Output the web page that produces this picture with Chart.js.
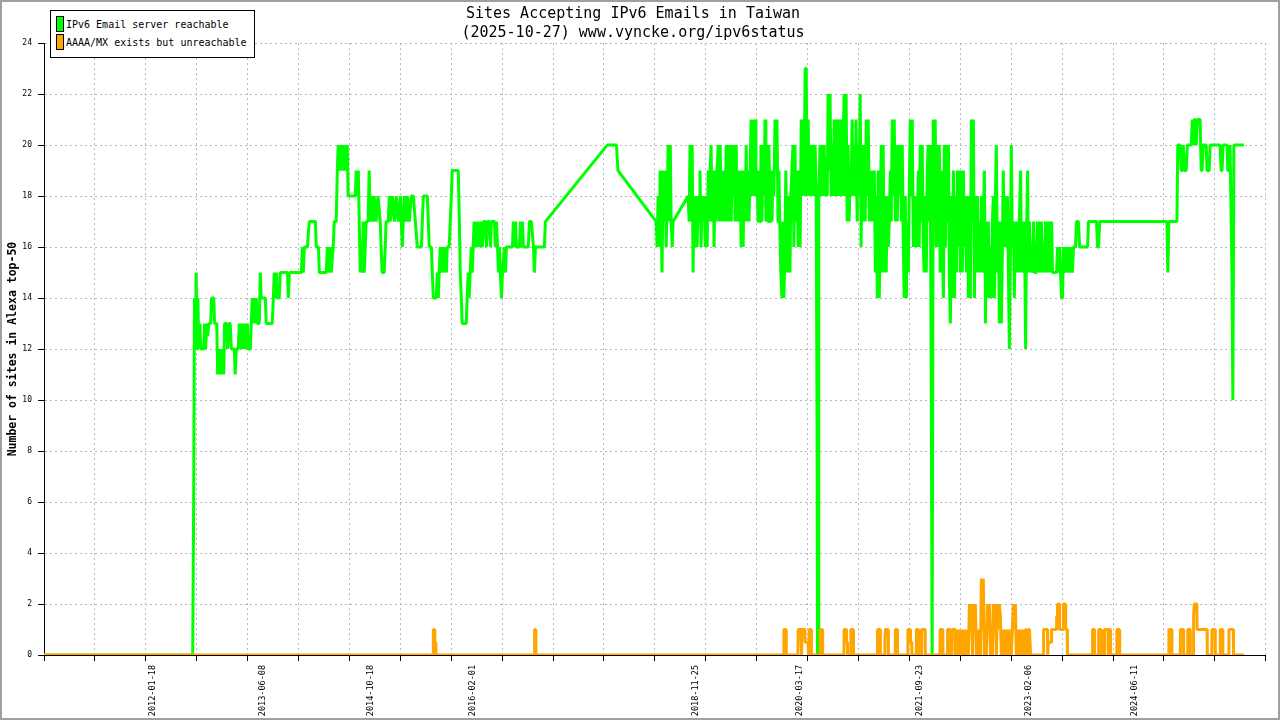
<!DOCTYPE html>
<html><head><meta charset="utf-8">
<script src="https://cdn.jsdelivr.net/npm/chart.js@4.4.1/dist/chart.umd.min.js"></script>
<style>
html,body{margin:0;padding:0;background:#fff;}
#wrap{position:relative;width:1280px;height:720px;overflow:hidden;background:#fff;}
#frame{position:absolute;left:0;top:0;width:1280px;height:720px;box-sizing:border-box;border:2px solid #a0a0a0;pointer-events:none;}
#legend{position:absolute;left:50px;top:10px;width:205px;height:48px;box-sizing:border-box;border:1px solid #000;background:#fff;font:10px 'DejaVu Sans Mono',monospace;color:#000;}
.sw{position:absolute;left:5px;width:8px;height:16px;box-sizing:border-box;border:1px solid #000;}
.lbl{position:absolute;left:15px;white-space:nowrap;line-height:12px;}
</style></head>
<body>
<div id="wrap">
<canvas id="c" width="1280" height="720"></canvas>
<div id="legend">
  <div class="sw" style="top:5px;background:#00ff00"></div><div class="lbl" style="top:8px">IPv6 Email server reachable</div>
  <div class="sw" style="top:23px;background:#ffa500"></div><div class="lbl" style="top:26px">AAAA/MX exists but unreachable</div>
</div>
<div id="frame"></div>
</div>
<script>
const chartTitle = ['Sites Accepting IPv6 Emails in Taiwan', '(2025-10-27) www.vyncke.org/ipv6status'];
const yTitle = 'Number of sites in Alexa top-50';
const axisStart = '2010-09-01';
const axisEnd = '2026-02-05';
const tickDates = ['2012-01-18','2013-06-08','2014-10-18','2016-02-01','2018-11-25','2020-03-17','2021-09-23','2023-02-06','2024-06-11'];

const greenSeries = [
['2010-09-01',0],['2012-07-18',0],['2012-07-23',7],['2012-07-26',14],['2012-07-30',12],['2012-08-03',15],['2012-08-07',12],['2012-08-11',14],['2012-08-15',12],['2012-08-20',13],['2012-08-24',12],['2012-09-07',12],['2012-09-11',13],['2012-09-16',12],['2012-09-20',13],['2012-09-25',12.5],['2012-09-30',13],['2012-10-09',13],['2012-10-13',14],['2012-10-23',14],['2012-10-27',13],['2012-11-06',13],['2012-11-10',11],['2012-11-15',12],['2012-11-19',11],['2012-11-24',12],['2012-11-29',11],['2012-12-03',12],['2012-12-08',11],['2012-12-12',13],['2012-12-22',13],['2012-12-26',12],['2012-12-31',13],
['2013-01-07',13],['2013-01-12',12],['2013-01-26',12],['2013-01-30',11],['2013-02-04',12],['2013-02-13',12],['2013-02-18',13],['2013-02-22',12],['2013-02-27',13],['2013-03-03',12],['2013-03-08',13],['2013-03-13',12],['2013-03-17',13],['2013-03-22',12],['2013-03-27',13],['2013-03-31',12],['2013-04-10',12],['2013-04-14',13],['2013-04-19',14],['2013-04-24',13],['2013-04-28',14],['2013-05-03',13],['2013-05-07',14],['2013-05-12',13],['2013-05-21',13],['2013-05-26',15],['2013-05-30',14],['2013-06-18',14],['2013-06-22',13],['2013-07-20',13],['2013-07-25',14],['2013-07-29',15],['2013-08-03',14],['2013-08-08',15],['2013-08-12',14],['2013-08-21',14],['2013-08-26',15],['2013-09-28',15],['2013-10-02',14],['2013-10-07',15],['2013-12-01',15],['2013-12-06',16],['2013-12-10',15],['2013-12-15',16],['2013-12-29',16],
['2014-01-02',16.5],['2014-01-07',17],['2014-02-04',17],['2014-02-08',16],['2014-02-18',16],['2014-02-22',15],['2014-03-26',15],['2014-03-31',16],['2014-04-04',15],['2014-04-13',16],['2014-04-18',15],['2014-04-27',16],['2014-05-02',17],['2014-05-11',17],['2014-05-16',19],['2014-05-20',20],['2014-05-25',19],['2014-05-30',20],['2014-06-03',19],['2014-06-08',20],['2014-06-12',19],['2014-06-17',20],['2014-06-26',19],['2014-07-01',20],['2014-07-05',18],['2014-08-07',18],['2014-08-11',19],['2014-08-16',18],['2014-08-21',19],['2014-08-25',17],['2014-08-30',15],['2014-09-03',16],['2014-09-08',15],['2014-09-12',17],['2014-09-17',15],['2014-09-22',16],['2014-09-26',17],['2014-10-05',17],['2014-10-10',19],['2014-10-15',17],['2014-10-24',18],['2014-10-28',17],['2014-11-02',18],['2014-11-11',17],['2014-11-20',18],['2014-11-30',17],['2014-12-04',16],['2014-12-09',15],['2014-12-18',15],['2014-12-23',16],['2014-12-27',17],
['2015-01-06',17],['2015-01-11',18],['2015-01-15',17],['2015-01-25',18],['2015-02-03',17],['2015-02-12',18],['2015-02-21',17],['2015-03-03',18],['2015-03-07',17],['2015-03-12',16],['2015-03-16',17],['2015-03-21',18],['2015-03-30',17],['2015-04-04',18],['2015-04-13',17],['2015-04-22',18],['2015-05-02',18],['2015-05-11',17],['2015-05-20',16],['2015-06-08',16],['2015-06-12',17],['2015-06-17',18],['2015-07-05',18],['2015-07-10',17],['2015-07-14',16],['2015-07-24',16],['2015-07-28',15],['2015-08-02',14],['2015-08-16',14],['2015-08-20',15],['2015-08-25',14],['2015-08-29',15],['2015-09-03',16],['2015-09-08',15],['2015-09-12',16],['2015-09-17',15],['2015-09-21',16],['2015-10-01',15],['2015-10-05',16],['2015-10-14',16],['2015-10-19',17],['2015-10-24',18],['2015-10-28',19],['2015-11-25',19],['2015-11-30',17],['2015-12-04',15],['2015-12-09',14],['2015-12-13',13],
['2016-01-01',13],['2016-01-05',14],['2016-01-10',15],['2016-01-14',14],['2016-01-19',15],['2016-01-24',16],['2016-01-28',15],['2016-02-02',16],['2016-02-06',17],['2016-02-11',16],['2016-02-16',17],['2016-02-20',16],['2016-02-25',17],['2016-03-06',16],['2016-03-11',17],['2016-03-15',16],['2016-03-20',17],['2016-03-29',17],['2016-04-03',16],['2016-04-07',17],['2016-04-17',17],['2016-04-21',16],['2016-04-26',17],['2016-05-10',17],['2016-05-14',16],['2016-05-19',17],['2016-05-24',16],['2016-05-28',15],['2016-06-02',16],['2016-06-06',15],['2016-06-11',14],['2016-06-16',15],['2016-06-25',16],['2016-06-30',15],['2016-07-04',16],['2016-08-01',16],['2016-08-05',17],['2016-08-10',16],['2016-08-15',17],['2016-08-19',16],['2016-09-02',16],['2016-09-07',17],['2016-09-11',16],['2016-09-16',17],['2016-09-20',16],['2016-10-13',16],['2016-10-18',17],['2016-10-27',17],['2016-11-01',16.5],['2016-11-06',16],['2016-11-10',15],['2016-11-15',16],['2016-12-26',16],['2016-12-31',17],
['2017-10-12',20],['2017-11-24',20],['2017-11-27',19.5],['2017-12-01',19],
['2018-05-26',17],['2018-05-30',16],['2018-06-04',18],['2018-06-09',16],['2018-06-13',19],['2018-06-18',17],['2018-06-22',15],['2018-06-27',19],['2018-07-02',17],['2018-07-06',19],['2018-07-11',16],['2018-07-16',18],['2018-07-20',20],['2018-07-25',17],['2018-07-30',20],['2018-08-03',17],['2018-08-08',16],['2018-08-12',17],
['2018-10-20',18],['2018-10-25',17],['2018-10-29',20],['2018-11-03',17],['2018-11-08',20],['2018-11-12',15],['2018-11-17',18],['2018-11-21',16],['2018-11-26',18],['2018-12-01',16],['2018-12-05',18],['2018-12-10',17],['2018-12-14',19],['2018-12-19',16],['2018-12-24',18],['2018-12-28',17],
['2019-01-03',18],['2019-01-07',16],['2019-01-12',18],['2019-01-16',16],['2019-01-21',19],['2019-01-25',17],['2019-01-30',19],['2019-02-03',20],['2019-02-08',17],['2019-02-13',19],['2019-02-17',16],['2019-02-22',19],['2019-02-26',17],['2019-03-03',19],['2019-03-08',20],['2019-03-13',17],['2019-03-17',20],['2019-03-22',17],['2019-03-27',19],['2019-03-31',17],['2019-04-05',19],['2019-04-09',17],['2019-04-14',20],['2019-04-19',17],['2019-04-23',20],['2019-04-28',17],['2019-05-03',20],['2019-05-07',17],['2019-05-12',20],['2019-05-16',18],['2019-05-21',20],['2019-05-25',17],['2019-05-30',20],['2019-06-04',17],['2019-06-08',19],['2019-06-13',17],['2019-06-17',19],['2019-06-22',16],['2019-06-26',19],['2019-07-01',16],['2019-07-06',19],['2019-07-10',17],['2019-07-15',20],['2019-07-19',17],['2019-07-24',19],['2019-07-28',17],['2019-08-02',19],['2019-08-07',21],['2019-08-11',18],['2019-08-16',21],['2019-08-20',18],['2019-08-25',21],['2019-08-29',18],['2019-09-03',19],['2019-09-08',17],['2019-09-12',19],['2019-09-17',17],['2019-09-21',20],['2019-09-26',17],['2019-10-01',20],['2019-10-05',18],['2019-10-10',21],['2019-10-14',17],['2019-10-19',20],['2019-10-24',17],['2019-10-28',20],['2019-11-02',17],['2019-11-06',19],['2019-11-11',17],['2019-11-16',19],['2019-11-20',18],['2019-11-25',21],['2019-11-29',19],['2019-12-04',21],['2019-12-09',17],['2019-12-13',19],['2019-12-18',16.5],['2019-12-22',15],['2019-12-27',14],
['2020-01-01',17],['2020-01-05',14],['2020-01-10',16],['2020-01-14',19],['2020-01-19',15],['2020-01-24',18],['2020-01-28',16],['2020-02-02',15],['2020-02-06',18],['2020-02-16',20],['2020-02-20',16],['2020-02-25',20],['2020-03-01',17],['2020-03-06',19],['2020-03-11',16],['2020-03-15',19],['2020-03-20',16],['2020-03-25',21],['2020-03-29',18],['2020-04-03',21],['2020-04-07',18],['2020-04-12',23],['2020-04-17',23],['2020-04-21',18],['2020-04-26',21],['2020-05-01',18],['2020-05-05',20],['2020-05-10',18],['2020-05-14',20],['2020-05-24',18],['2020-05-28',20],['2020-06-02',18],['2020-06-06',9],['2020-06-08',0],['2020-06-11',0],['2020-06-14',18],['2020-06-20',20],['2020-06-25',18],['2020-06-30',20],['2020-07-04',18],['2020-07-09',20],['2020-07-13',18],['2020-07-18',19],['2020-07-23',18],['2020-07-27',22],['2020-08-01',19],['2020-08-05',22],['2020-08-10',18],['2020-08-15',20],['2020-08-19',18],['2020-08-24',21],['2020-08-28',18],['2020-09-02',21],['2020-09-07',19],['2020-09-11',18],['2020-09-16',21],['2020-09-20',18],['2020-09-25',21],['2020-09-30',18],['2020-10-04',20],['2020-10-09',22],['2020-10-13',18],['2020-10-18',22],['2020-10-23',17],['2020-10-27',20],['2020-11-01',17],['2020-11-06',19],['2020-11-10',18],['2020-11-15',21],['2020-11-19',18],['2020-11-24',20],['2020-11-29',18],['2020-12-03',21],['2020-12-08',17],['2020-12-12',20],['2020-12-17',18],['2020-12-22',22],['2020-12-26',16],
['2021-01-01',20],['2021-01-05',17],['2021-01-10',20],['2021-01-14',17],['2021-01-19',21],['2021-01-24',18],['2021-01-28',21],['2021-02-02',17],['2021-02-06',19],['2021-02-11',17],['2021-02-16',19],['2021-02-20',17],['2021-02-25',19],['2021-03-02',15],['2021-03-06',18],['2021-03-11',14],['2021-03-15',19],['2021-03-20',14],['2021-03-25',17],['2021-03-29',20],['2021-04-03',15],['2021-04-07',20],['2021-04-12',15],['2021-04-17',18],['2021-04-21',15],['2021-04-26',18],['2021-05-01',16],['2021-05-05',17],['2021-05-10',19],['2021-05-14',17],['2021-05-19',21],['2021-05-24',18],['2021-05-28',21],['2021-06-02',17],['2021-06-06',20],['2021-06-11',17],['2021-06-16',20],['2021-06-20',18],['2021-06-25',20],['2021-06-30',17],['2021-07-04',20],['2021-07-09',16],['2021-07-13',14],['2021-07-18',18],['2021-07-23',14],['2021-07-27',17],['2021-08-01',15],['2021-08-05',18],['2021-08-10',21],['2021-08-15',18],['2021-08-19',21],['2021-08-24',16],['2021-08-28',18],['2021-09-02',16],['2021-09-07',18],['2021-09-11',16],['2021-09-16',19],['2021-09-20',16],['2021-09-25',20],['2021-09-30',17],['2021-10-04',20],['2021-10-09',16],['2021-10-13',15],['2021-10-18',18],['2021-10-23',15],['2021-10-27',19],['2021-11-01',20],['2021-11-06',17],['2021-11-10',20],['2021-11-15',10],['2021-11-19',0],['2021-11-22',0],['2021-11-24',21],['2021-11-29',18],['2021-12-03',21],['2021-12-08',16],['2021-12-12',20],['2021-12-17',16],['2021-12-22',20],['2021-12-26',15],
['2022-01-01',19],['2022-01-05',16],['2022-01-10',14],['2022-01-14',20],['2022-01-19',16],['2022-01-24',20],['2022-01-28',17],['2022-02-02',20],['2022-02-06',15],['2022-02-11',13],['2022-02-16',18],['2022-02-20',14],['2022-02-25',19],['2022-03-02',14],['2022-03-06',18],['2022-03-11',15],['2022-03-15',19],['2022-03-20',16],['2022-03-25',19],['2022-03-29',15],['2022-04-03',19],['2022-04-07',15],['2022-04-12',19],['2022-04-17',16],['2022-04-21',18],['2022-04-26',15],['2022-05-01',18],['2022-05-05',14],['2022-05-10',18],['2022-05-14',14],['2022-05-19',21],['2022-05-24',17],['2022-05-28',21],['2022-06-02',14],['2022-06-06',18],['2022-06-11',15],['2022-06-16',18],['2022-06-20',15],['2022-06-25',17],['2022-06-30',15],['2022-07-04',18],['2022-07-09',15],['2022-07-13',17],['2022-07-18',19],['2022-07-23',13],['2022-07-27',17],['2022-08-01',14],['2022-08-05',17],['2022-08-10',14],['2022-08-15',16],['2022-08-19',14],['2022-08-24',17],['2022-08-28',18],['2022-09-02',14],['2022-09-07',18],['2022-09-11',20],['2022-09-16',15],['2022-09-20',17],['2022-09-25',13],['2022-09-30',17],['2022-10-04',13],['2022-10-09',16],['2022-10-13',19],['2022-10-18',16],['2022-10-23',18],['2022-10-27',16],['2022-11-01',18],['2022-11-06',15],['2022-11-10',12],['2022-11-15',16],['2022-11-19',20],['2022-11-24',16],['2022-11-29',17],['2022-12-03',14],['2022-12-08',17],['2022-12-12',15],['2022-12-17',17],['2022-12-22',15],['2022-12-26',17],
['2023-01-01',19],['2023-01-05',15],['2023-01-10',17],['2023-01-14',15],['2023-01-19',17],['2023-01-24',12],['2023-01-28',16],['2023-02-02',19],['2023-02-06',15],['2023-02-11',17],['2023-02-16',15],['2023-02-20',16],['2023-02-25',15],['2023-03-02',17],['2023-03-06',15],['2023-03-15',15],['2023-03-20',17],['2023-03-25',15],['2023-03-29',17],['2023-04-03',15],['2023-04-07',17],['2023-04-12',15],['2023-04-17',16],['2023-04-21',15],['2023-04-26',17],['2023-05-01',15],['2023-05-05',17],['2023-05-10',15],['2023-05-14',17],['2023-05-19',15],['2023-05-24',17],['2023-05-28',15],['2023-06-16',15],['2023-06-20',16],['2023-06-25',15],['2023-06-30',16],['2023-07-04',15],['2023-07-09',14],['2023-07-13',14],['2023-07-18',16],['2023-07-23',15],['2023-07-27',16],['2023-08-01',15],['2023-08-10',16],['2023-08-15',15],['2023-08-19',16],['2023-08-28',15],['2023-09-02',16],['2023-09-11',16],['2023-09-16',17],['2023-09-25',17],['2023-09-30',16],['2023-11-06',16],['2023-11-10',17],['2023-12-17',17],['2023-12-22',16],['2023-12-26',16],
['2024-01-01',17],['2024-11-06',17],['2024-11-10',15],['2024-11-15',17],['2024-12-22',17],['2024-12-26',20],
['2025-01-06',20],['2025-01-11',19],['2025-01-15',19],['2025-01-20',20],['2025-01-25',19],['2025-02-03',19],['2025-02-08',20],['2025-02-26',20],['2025-03-03',21],['2025-03-07',20],['2025-03-12',21],['2025-03-16',21],['2025-03-21',20],['2025-03-26',21],['2025-04-08',21],['2025-04-13',19],['2025-04-17',19],['2025-04-22',20],['2025-05-06',20],['2025-05-10',19],['2025-05-20',19],['2025-05-24',20],['2025-07-09',20],['2025-07-14',19],['2025-07-18',19],['2025-07-23',20],['2025-08-10',20],['2025-08-14',19],['2025-08-19',19],['2025-08-24',20],['2025-08-28',20],['2025-09-02',15],['2025-09-06',10],['2025-09-11',20],['2025-10-27',20]
];

const orangeSeries = [
['2010-09-01',0],['2015-08-01',0],['2015-08-02',1],['2015-08-08',1],['2015-08-09',0.5],['2015-08-13',0.5],['2015-08-14',0],
['2016-11-10',0],['2016-11-11',1],['2016-11-16',1],['2016-11-17',0],
['2020-01-04',0],['2020-01-05',1],['2020-01-15',1],['2020-01-16',0],['2020-03-10',0],['2020-03-11',1],['2020-03-24',1],['2020-03-25',0],['2020-03-28',0],['2020-03-29',1],['2020-04-11',1],['2020-04-12',0.5],['2020-04-26',0.5],['2020-04-27',0],['2020-04-30',0],['2020-05-01',1],['2020-05-10',1],['2020-05-11',0],['2020-06-20',0],['2020-06-21',1],['2020-07-01',1],['2020-07-02',0],['2020-10-08',0],['2020-10-09',1],['2020-10-19',1],['2020-10-20',0.5],['2020-10-24',0.5],['2020-10-25',0],['2020-11-08',0],['2020-11-09',1],['2020-11-20',1],['2020-11-21',0],
['2021-03-11',0],['2021-03-12',1],['2021-03-24',1],['2021-03-25',0],['2021-04-14',0],['2021-04-15',0.5],['2021-04-17',1],['2021-04-30',1],['2021-05-01',0],['2021-06-01',0],['2021-06-02',1],['2021-06-11',1],['2021-06-12',0],['2021-07-29',0],['2021-07-30',1],['2021-08-10',1],['2021-08-11',0.5],['2021-08-17',0.5],['2021-08-18',0],['2021-09-06',0],['2021-09-07',1],['2021-09-16',1],['2021-09-17',0],['2021-09-30',0],['2021-10-01',1],['2021-10-17',1],['2021-10-18',0],['2021-12-25',0],['2021-12-26',1],
['2022-01-07',1],['2022-01-08',0],['2022-01-28',0],['2022-01-29',1],['2022-02-10',1],['2022-02-11',0],['2022-02-18',0],['2022-02-19',1],['2022-03-05',1],['2022-03-06',0],['2022-03-14',0],
['2022-03-15',1],['2022-03-20',0],['2022-03-25',1],['2022-03-29',0],['2022-04-03',1],['2022-04-07',0],['2022-04-12',1],['2022-04-17',0],['2022-04-21',1],['2022-04-26',0],['2022-05-01',1],['2022-05-05',0],['2022-05-10',2],['2022-05-14',1],['2022-05-19',2],['2022-05-24',0],['2022-05-28',2],['2022-06-02',1],['2022-06-06',2],['2022-06-11',0],['2022-06-16',1],['2022-06-20',0],['2022-06-25',1],['2022-06-30',0],['2022-07-04',3],['2022-07-09',1],['2022-07-13',3],['2022-07-18',0],['2022-07-23',1],['2022-07-27',0],['2022-08-01',2],['2022-08-05',1],['2022-08-10',2],['2022-08-15',0],['2022-08-19',1],['2022-08-24',0],['2022-08-28',2],['2022-09-02',1],['2022-09-07',2],['2022-09-11',0],['2022-09-16',2],['2022-09-20',1],['2022-09-25',2],['2022-09-30',1.5],['2022-10-04',0],['2022-10-09',1],['2022-10-13',0],['2022-10-18',1],['2022-10-23',0],['2022-10-27',1],['2022-11-01',0],['2022-11-06',1],['2022-11-10',0],['2022-11-15',1],['2022-11-19',0],['2022-11-24',1],['2022-11-29',2],['2022-12-03',1],['2022-12-08',2],['2022-12-12',0],['2022-12-17',1],['2022-12-22',0],['2022-12-26',1],
['2023-01-01',0],['2023-01-05',1],['2023-01-10',0],['2023-01-14',1],['2023-01-19',0],['2023-01-24',1],['2023-01-28',1],['2023-02-02',0],['2023-02-06',1],['2023-02-11',1],['2023-02-16',0],
['2023-04-16',0],['2023-04-17',1],['2023-05-05',1],['2023-05-06',0],['2023-05-09',0.5],['2023-05-23',0.5],['2023-05-24',1],['2023-06-15',1],['2023-06-16',1.5],['2023-06-19',1.5],['2023-06-20',2],['2023-06-29',2],['2023-06-30',1],['2023-07-17',1],['2023-07-18',2],['2023-07-27',2],['2023-07-28',1],['2023-08-04',1],['2023-08-05',0],['2023-11-27',0],['2023-11-28',0.5],['2023-11-30',1],['2023-12-07',1],['2023-12-08',0],['2023-12-26',0],['2023-12-27',1],
['2024-01-06',1],['2024-01-07',0],['2024-01-15',0],['2024-01-16',1],['2024-01-22',0],['2024-01-23',1],['2024-02-08',1],['2024-02-09',0],['2024-02-10',1],['2024-02-19',1],['2024-02-20',0],['2024-03-19',0],['2024-03-20',1],['2024-04-01',1],['2024-04-02',0],['2024-11-14',0],['2024-11-15',1],['2024-11-28',1],['2024-11-29',0],
['2025-01-06',0],['2025-01-07',1],['2025-01-21',1],['2025-01-22',0],['2025-02-09',0],['2025-02-10',1],['2025-02-21',1],['2025-02-22',0],['2025-03-08',0],['2025-03-09',1.5],['2025-03-12',2],['2025-03-24',2],['2025-03-25',1],['2025-05-10',1],['2025-05-11',0],['2025-06-01',0],['2025-06-02',1],['2025-06-16',1],['2025-06-17',0],['2025-07-09',0],['2025-07-10',1],['2025-07-21',1],['2025-07-22',0],['2025-08-18',0],['2025-08-19',1],['2025-09-08',1],['2025-09-09',0],['2025-10-27',0]
];

const toDay = s => Date.parse(s) / 86400000;
const xMin = toDay(axisStart), xMax = toDay(axisEnd);
const gridDivisions = 24;
const MONO = "'DejaVu Sans Mono', monospace";

new Chart(document.getElementById('c'), {
  type: 'line',
  data: {
    datasets: [
      { label: 'IPv6 Email server reachable', data: greenSeries.map(p => ({x: toDay(p[0]), y: p[1]})),
        borderColor: '#00ff00', backgroundColor: '#00ff00', borderWidth: 3, pointRadius: 0, fill: false, tension: 0, order: 1, borderJoinStyle: 'bevel' },
      { label: 'AAAA/MX exists but unreachable', data: orangeSeries.map(p => ({x: toDay(p[0]), y: p[1]})),
        borderColor: '#ffa500', backgroundColor: '#ffa500', borderWidth: 3, pointRadius: 0, fill: false, tension: 0, order: 0, borderJoinStyle: 'bevel' }
    ]
  },
  options: {
    responsive: false, devicePixelRatio: 1, animation: false, events: [],
    layout: { padding: { left: 0, right: 14, top: 0, bottom: 0 } },
    plugins: {
      legend: { display: false },
      tooltip: { enabled: false },
      title: { display: true, text: chartTitle, color: '#000', font: { family: MONO, size: 15, weight: 'normal', lineHeight: 1.27 }, padding: { top: 5, bottom: 0 } }
    },
    scales: {
      x: {
        type: 'linear', min: xMin, max: xMax,
        afterBuildTicks: (scale) => {
          const t = [];
          for (let i = 0; i <= gridDivisions; i++) t.push({ value: xMin + (xMax - xMin) * i / gridDivisions });
          tickDates.forEach(d => t.push({ value: toDay(d), text: d }));
          t.sort((a, b) => a.value - b.value);
          scale.ticks = t;
        },
        ticks: { autoSkip: false, maxRotation: 90, minRotation: 90, color: '#000', padding: 4,
          font: { family: MONO, size: 8.5 },
          callback: (v, i, ticks) => ticks[i].text || '' },
        grid: {
          color: c => (c.tick && c.tick.text) ? 'rgba(0,0,0,0)' : '#b8b8b8',
          tickColor: c => (c.tick && c.tick.text) ? 'rgba(0,0,0,0)' : '#000',
          tickLength: 6, lineWidth: 1
        },
        border: { display: true, color: '#000', width: 1, dash: [2, 3] },
        afterFit: s => { s.height = 65; }
      },
      y: {
        min: 0, max: 24,
        ticks: { stepSize: 2, color: '#000', padding: 6, font: { family: MONO, size: 8 } },
        grid: { color: '#b8b8b8', tickColor: '#000', tickLength: 6, lineWidth: 1 },
        border: { display: true, color: '#000', width: 1, dash: [2, 3] },
        title: { display: true, text: yTitle, color: '#000', font: { family: MONO, size: 11.5, weight: 'bold' }, padding: { top: 6, bottom: 0 } },
        afterFit: s => { s.width = 44; }
      }
    }
  }
});
</script>
</body></html>
